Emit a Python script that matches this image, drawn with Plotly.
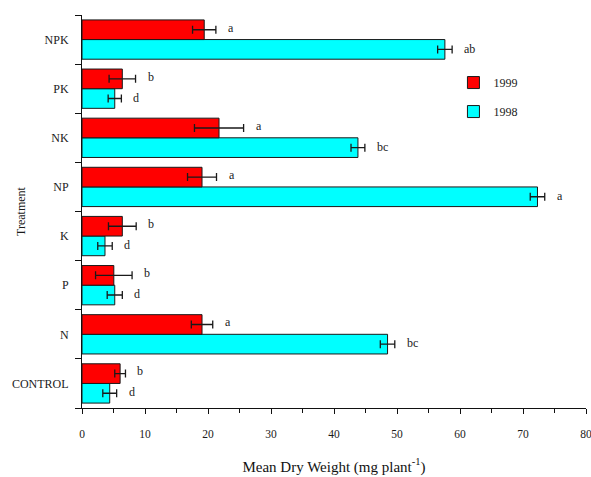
import plotly.graph_objects as go

treatments = ["CONTROL", "N", "P", "K", "NP", "NK", "PK", "NPK"]
mean_1999 = [6.05, 19.05, 5.05, 6.4, 19.05, 21.75, 6.4, 19.4]
err_1999 = [0.85, 1.7, 2.9, 2.2, 2.3, 3.9, 2.1, 1.85]
sig_1999 = ["b", "a", "b", "b", "a", "a", "b", "a"]
mean_1998 = [4.4, 48.5, 5.2, 3.65, 72.3, 43.8, 5.2, 57.6]
err_1998 = [1.1, 1.15, 1.2, 1.15, 1.15, 1.1, 1.05, 1.15]
sig_1998 = ["d", "bc", "d", "d", "a", "bc", "d", "ab"]

FONT = "Liberation Serif"
TXT = "#1a1a1a"

fig = go.Figure()
fig.add_trace(go.Bar(
    name="1998", y=treatments, x=mean_1998, orientation="h",
    marker=dict(color="#00FFFF", line=dict(color="#1a1a1a", width=1)),
    error_x=dict(type="data", array=err_1998, color="#1a1a1a", thickness=1.3, width=4),
    legendgroup="g98", legendrank=2,
))
fig.add_trace(go.Bar(
    name="1999", y=treatments, x=mean_1999, orientation="h",
    marker=dict(color="#FF0000", line=dict(color="#1a1a1a", width=1)),
    error_x=dict(type="data", array=err_1999, color="#1a1a1a", thickness=1.3, width=4),
    legendgroup="g99", legendrank=1,
))

annotations = []
for t, m, e, s in zip(treatments, mean_1999, err_1999, sig_1999):
    annotations.append(dict(x=m + e, y=t, text=s, xref="x", yref="y", showarrow=False,
                            xanchor="left", xshift=10, yshift=12,
                            font=dict(family=FONT, size=12, color=TXT)))
for t, m, e, s in zip(treatments, mean_1998, err_1998, sig_1998):
    annotations.append(dict(x=m + e, y=t, text=s, xref="x", yref="y", showarrow=False,
                            xanchor="left", xshift=10, yshift=-9,
                            font=dict(family=FONT, size=12, color=TXT)))
annotations.append(dict(text="Treatment", xref="paper", yref="paper", x=0, y=0.5,
                        xanchor="center", yanchor="middle",
                        xshift=-61.5, textangle=-90, showarrow=False,
                        font=dict(family=FONT, size=12, color=TXT)))

fig.update_layout(
    template="none",
    width=591, height=477,
    margin=dict(l=82, r=5, t=15, b=69),
    paper_bgcolor="white", plot_bgcolor="white",
    barmode="group", bargap=0.2, bargroupgap=0,
    font=dict(family=FONT, size=11, color=TXT),
    showlegend=True,
    legend=dict(x=0.737, y=0.865, xanchor="left", yanchor="top",
                traceorder="grouped", tracegroupgap=10,
                font=dict(family=FONT, size=12, color=TXT),
                bgcolor="rgba(0,0,0,0)", itemwidth=30),
    annotations=annotations,
    xaxis=dict(range=[0, 80], dtick=10, tick0=0, showgrid=False, zeroline=False,
               showline=True, linecolor="#111", linewidth=1,
               ticks="outside", ticklen=5, tickcolor="#111", tickwidth=1,
               ticklabelstandoff=10, ticklabeloverflow="allow",
               minor=dict(dtick=5, ticks="outside", ticklen=4, tickcolor="#111", showgrid=False),
               tickfont=dict(family=FONT, size=11.5, color=TXT),
               title=dict(text="Mean Dry Weight (mg plant<sup>-1</sup>)", standoff=22,
                          font=dict(family=FONT, size=15, color="#111")),
               automargin=False),
    yaxis=dict(type="category", categoryorder="array", categoryarray=treatments,
               showgrid=False, zeroline=False, showline=True, linecolor="#111", linewidth=1,
               ticks="outside", tickson="boundaries", ticklen=6, tickcolor="#111",
               ticklabelstandoff=10,
               tickfont=dict(family=FONT, size=12, color=TXT),
               automargin=False),
)

fig.write_html("out.html", config={"displayModeBar": False},
               post_script="document.body.style.margin='0';")
